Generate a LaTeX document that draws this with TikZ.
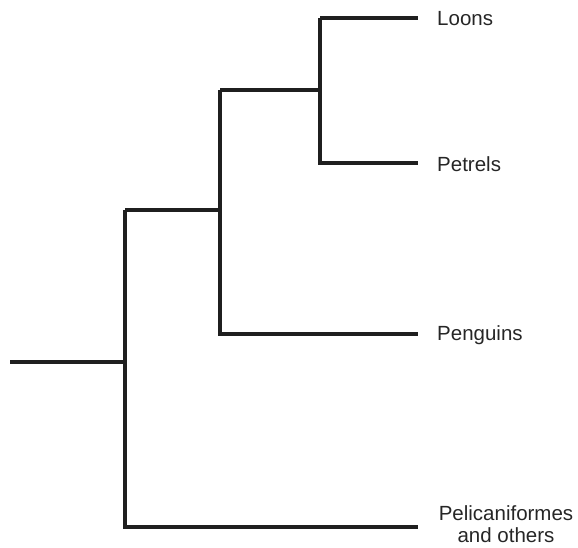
\documentclass[tikz,border=0pt]{standalone}
\usepackage{fontspec}
\setmainfont{Liberation Sans}
\begin{document}
\begin{tikzpicture}[x=1pt,y=-1pt,
  branch/.style={line width=3.2pt,color=black!88,line cap=butt,line join=miter},
  taxon/.style={anchor=west,inner sep=0pt,font=\fontsize{20.5}{23}\selectfont,text=black!85}]
\useasboundingbox (0,0) rectangle (578,548);
% tip coordinates
\coordinate (root) at (10,362);
\coordinate (loonsEnd) at (418,18);
\coordinate (petrelsEnd) at (418,163);
\coordinate (penguinsEnd) at (418,334);
\coordinate (pelicanEnd) at (418,527);
% internal junctions
\coordinate (n1) at (125,362);
\coordinate (n2) at (220,210);
\coordinate (n3) at (320,90);
% labels
\node[taxon] (loons) at (437,19) {Loons};
\node[taxon] (petrels) at (437,164) {Petrels};
\node[taxon] (penguins) at (437,335) {Penguins};
\node[inner sep=0pt,font=\fontsize{20.5}{22}\selectfont,text=black!85,align=center] (pelican) at (506,524) {Pelicaniformes\\and others};
% branches
\draw[branch] (root) -- (n1);
\draw[branch] (n1 |- n2) -- (n1 |- pelicanEnd) -- (pelicanEnd);
\draw[branch] (n1 |- n2) -- (n2);
\draw[branch] (n2 |- n3) -- (n2 |- penguinsEnd) -- (penguinsEnd);
\draw[branch] (n2 |- n3) -- (n3);
\draw[branch] (n3 |- loonsEnd) -- (n3 |- petrelsEnd) -- (petrelsEnd);
\draw[branch] (n3 |- loonsEnd) -- (loonsEnd);
\end{tikzpicture}
\end{document}
